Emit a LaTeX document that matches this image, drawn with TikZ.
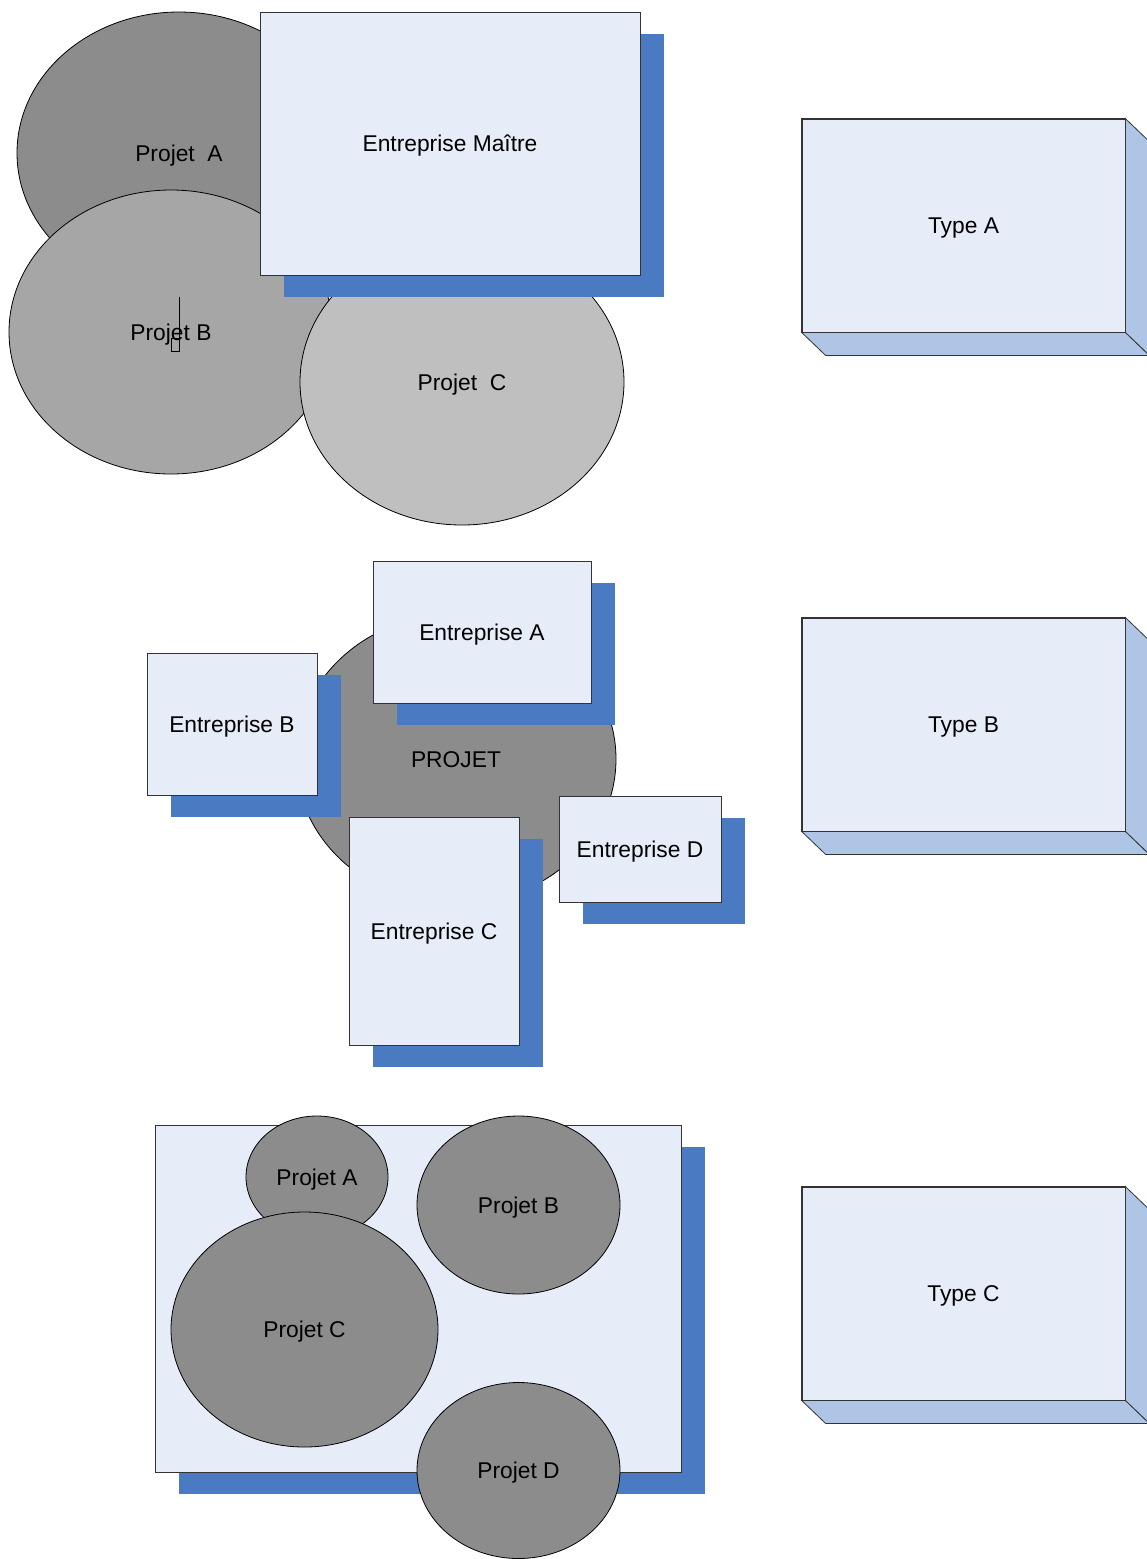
\documentclass[tikz,border=0pt]{standalone}
\usepackage{fontspec}
\setmainfont{Liberation Sans}
\usetikzlibrary{shapes.geometric,shadows,calc}
\definecolor{shblue}{HTML}{4A7AC1}
\definecolor{boxfill}{HTML}{E6EDF8}
\definecolor{sideblue}{HTML}{AFC5E5}
\definecolor{grayA}{HTML}{8C8C8C}
\definecolor{grayB}{HTML}{A6A6A6}
\definecolor{grayC}{HTML}{BFBFBF}
\tikzset{
  lbl/.style={font=\fontsize{22.8}{27}\selectfont, text=black, text height=16pt, text depth=0pt},
  proj/.style={ellipse, draw=black, line width=0.8pt, inner sep=0pt, lbl},
  ent/.style={rectangle, draw=black!80, line width=0.8pt, fill=boxfill, inner sep=0pt, lbl,
    drop shadow={shadow xshift=24pt, shadow yshift=-22pt, fill=shblue, opacity=1}},
  typebox/.style={rectangle, draw=black!80, line width=0.8pt, fill=boxfill, inner sep=0pt, lbl,
    minimum width=323pt, minimum height=213pt},
  face/.style={fill=sideblue, draw=black!80, line width=0.8pt, line join=miter}
}
\newcommand{\extrude}[1]{%
  \draw[face] (#1.south west) -- ++(24pt,-23pt) -- ($(#1.south east)+(24pt,-23pt)$) -- (#1.south east) -- cycle;
  \draw[face] (#1.north east) -- ++(24pt,-23pt) -- ($(#1.south east)+(24pt,-23pt)$) -- (#1.south east) -- cycle;
  \draw[draw=black!80, line width=0.8pt] (#1.north west) rectangle (#1.south east);
}
\begin{document}
\begin{tikzpicture}[x=1pt,y=-1pt]
\clip (0,0) rectangle (1147,1559);
\fill[white] (0,0) rectangle (1147,1559);

% ---- Top section ----
\node[proj, fill=grayA, minimum width=324pt, minimum height=282pt] (pa1) at (179,153) {Projet\ \ A};
\node[proj, fill=grayB, minimum width=324pt, minimum height=284pt] (pb1) at (171,332) {Projet B};
\node[proj, fill=grayC, minimum width=324pt, minimum height=286pt] (pc1) at (462,382) {Projet\ \ C};
\node[ent, minimum width=380pt, minimum height=263pt] (em) at (450,143.5) {Entreprise Maître};
\draw[black, line width=0.6pt] (179,297) -- (179,351);
\draw[black, line width=0.6pt] (171,338) rectangle (179,351);

% ---- Middle section ----
\node[proj, fill=grayA, minimum width=320pt, minimum height=290pt] (pm) at (456,759) {PROJET};
\node[ent, minimum width=218pt, minimum height=142pt] (ea) at (482,632) {Entreprise A};
\node[ent, minimum width=170pt, minimum height=142pt] (eb) at (232,724) {Entreprise B};
\node[ent, minimum width=170pt, minimum height=228pt] (ec) at (434,931) {Entreprise C};
\node[ent, minimum width=162pt, minimum height=106pt] (ed) at (640,849) {Entreprise D};

% ---- Bottom section ----
\node[ent, minimum width=526pt, minimum height=347pt] (big) at (418,1298.5) {};
\node[proj, fill=grayA, minimum width=142pt, minimum height=122pt] (pa3) at (317,1177) {Projet A};
\node[proj, fill=grayA, minimum width=203pt, minimum height=178pt] (pb3) at (518.5,1205) {Projet B};
\node[proj, fill=grayA, minimum width=267pt, minimum height=235pt] (pc3) at (304.5,1329.5) {Projet C};
\node[proj, fill=grayA, minimum width=203pt, minimum height=176pt] (pd3) at (518.5,1470.5) {Projet D};

% ---- Type boxes ----
\node[typebox] (ta) at (963.5,225.5) {Type A};
\extrude{ta}
\node[typebox] (tb) at (963.5,724.5) {Type B};
\extrude{tb}
\node[typebox] (tc) at (963.5,1293.5) {Type C};
\extrude{tc}
\end{tikzpicture}
\end{document}
